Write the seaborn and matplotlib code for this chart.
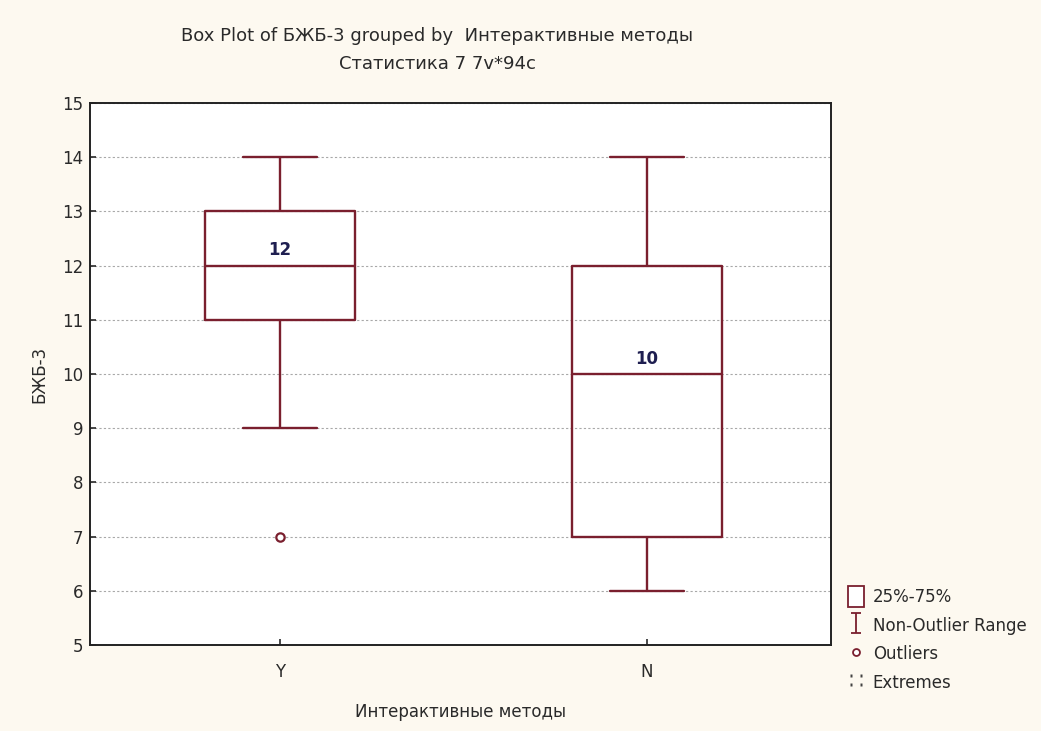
import numpy as np
import pandas as pd
import matplotlib
matplotlib.use("Agg")
import matplotlib.pyplot as plt
from matplotlib.path import Path
from matplotlib.patches import Patch
from matplotlib.lines import Line2D
import seaborn as sns

# Scores of БЖБ-3 per group of "Интерактивные методы"
groups = ["Y", "N"]
scores_y = [7, 9, 11, 11, 12, 12, 13, 13, 14]
scores_n = [6, 7, 7, 9, 10, 11, 12, 13, 14]
median_labels = [12, 10]
y_ticks = [5, 6, 7, 8, 9, 10, 11, 12, 13, 14, 15]

title_line1 = "Box Plot of БЖБ-3 grouped by  Интерактивные методы"
title_line2 = "Статистика 7 7v*94c"
x_title = "Интерактивные методы"
y_title = "БЖБ-3"
legend_labels = ["25%-75%", "Non-Outlier Range", "Outliers", "Extremes"]

df = pd.DataFrame({
    "group": [groups[0]] * len(scores_y) + [groups[1]] * len(scores_n),
    "value": scores_y + scores_n,
})

sns.set_style("white")
plt.rcParams["font.family"] = ["DejaVu Sans"]

maroon = "#7a1f2e"
bg = "#fdf9f0"
txt = "#2a2a2a"

fig = plt.figure(figsize=(10.41, 7.31), dpi=100, facecolor=bg)
ax = fig.add_axes([0.0865, 0.1176, 0.7115, 0.7414])
ax.set_facecolor("white")

sns.boxplot(
    data=df, x="group", y="value", order=groups, ax=ax,
    fill=False, color=maroon, linecolor=maroon, width=0.41, whis=1.5,
    linewidth=1.7,
    medianprops=dict(color=maroon, linewidth=1.7),
    capwidths=0.2,
    flierprops=dict(marker="o", markersize=6, markerfacecolor="white",
                    markeredgecolor=maroon, markeredgewidth=1.6),
)

for i, m in enumerate(median_labels):
    ax.text(i, m + 0.12, str(m), ha="center", va="bottom",
            fontsize=12, fontweight="bold", color="#1e1e50")

ax.set_xlim(-0.518, 1.501)
ax.set_ylim(5, 15)
ax.set_yticks(y_ticks)
ax.yaxis.grid(True, color="#a8a8a8", linestyle=(0, (2, 2)), linewidth=0.8)
ax.set_axisbelow(True)
for s in ax.spines.values():
    s.set_color("#222222")
    s.set_linewidth(1.4)
ax.tick_params(axis="both", direction="in", length=4, width=1.2,
               labelsize=12, colors=txt)
ax.tick_params(axis="y", left=True, pad=5)
ax.tick_params(axis="x", bottom=True, pad=13)

ax.set_xlabel(x_title, fontsize=12, labelpad=16, color=txt)
ax.set_ylabel(y_title, fontsize=12, labelpad=10, color=txt)

fig.text(0.42, 0.951, title_line1, ha="center", va="center", fontsize=13, color=txt)
fig.text(0.42, 0.912, title_line2, ha="center", va="center", fontsize=13, color=txt)

# Legend with box, whisker range, outlier and extreme symbols
range_marker = Path(
    [(-0.5, 1), (0.5, 1), (0, 1), (0, -1), (-0.5, -1), (0.5, -1)],
    [Path.MOVETO, Path.LINETO, Path.MOVETO, Path.LINETO, Path.MOVETO, Path.LINETO],
)
handles = [
    Patch(facecolor="white", edgecolor=maroon, linewidth=1.3),
    Line2D([], [], linestyle="none", marker=range_marker, markersize=15,
           markeredgecolor=maroon, markeredgewidth=1.3),
    Line2D([], [], linestyle="none", marker="o", markersize=5,
           markerfacecolor="white", markeredgecolor=maroon, markeredgewidth=1.3),
    Line2D([], [], linestyle="none", marker="$\u2237$", markersize=9,
           markeredgecolor="none", markerfacecolor="#444444"),
]
leg = fig.legend(handles, legend_labels, loc="upper left",
                 bbox_to_anchor=(0.808, 0.207), frameon=False, fontsize=12,
                 handlelength=1.0, handleheight=1.5, handletextpad=0.5,
                 labelspacing=0.5, borderaxespad=0)
for t in leg.get_texts():
    t.set_color(txt)

fig.savefig("out.png", dpi=100, facecolor=bg)
